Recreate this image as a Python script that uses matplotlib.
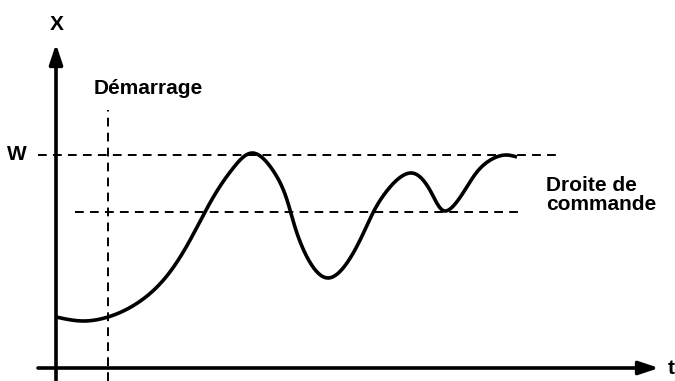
import numpy as np
import matplotlib.pyplot as plt

# schematic response curve: time t vs value X (arbitrary units, origin at axes crossing)
t_pts = [0, 27, 52, 100, 149, 178, 196, 216, 245, 272, 300, 330, 356, 375, 389, 405, 430, 451, 461]
x_pts = [51, 47, 51, 80, 156, 201, 215, 199, 124, 90, 120, 176, 195, 176, 157, 172, 205, 213, 211]

w_level = 213
cmd_level = 156
start_t = 52


def smooth(xs, ys, n=600):
    # natural cubic spline through the points (chord-length parameter), for drawing only
    p = np.column_stack([xs, ys]).astype(float)
    d = np.hypot(*np.diff(p, axis=0).T)
    s = np.concatenate([[0], np.cumsum(d)])
    m = len(s)
    h = np.diff(s)
    A = np.zeros((m, m))
    A[0, 0] = A[-1, -1] = 1
    for i in range(1, m - 1):
        A[i, i - 1] = h[i - 1]
        A[i, i] = 2 * (h[i - 1] + h[i])
        A[i, i + 1] = h[i]
    ss = np.linspace(0, s[-1], n)
    res = []
    for k in range(2):
        y = p[:, k]
        b = np.zeros(m)
        b[1:-1] = 6 * ((y[2:] - y[1:-1]) / h[1:] - (y[1:-1] - y[:-2]) / h[:-1])
        M = np.linalg.solve(A, b)
        idx = np.clip(np.searchsorted(s, ss) - 1, 0, m - 2)
        u = ss - s[idx]
        hi = h[idx]
        v = (M[idx] * (hi - u) ** 3 / (6 * hi) + M[idx + 1] * u ** 3 / (6 * hi)
             + (y[idx] / hi - M[idx] * hi / 6) * (hi - u)
             + (y[idx + 1] / hi - M[idx + 1] * hi / 6) * u)
        res.append(v)
    return res[0], res[1]


fig = plt.figure(figsize=(6.75, 3.81), dpi=100)
ax = fig.add_axes([0, 0, 1, 1])
ax.set_xlim(-56, 619)
ax.set_ylim(-13, 368)
ax.axis("off")

font = dict(family="Liberation Sans", weight="bold", color="black")
dash = dict(color="black", lw=1.4, dashes=(4.5, 3.2))

# axes with arrows
head = "-|>,head_length=0.6,head_width=0.2"
ax.annotate("", xy=(603, 0), xytext=(-18, 0),
            arrowprops=dict(arrowstyle=head, mutation_scale=20, lw=2.6,
                            color="black", shrinkA=0, shrinkB=0))
ax.annotate("", xy=(0, 324), xytext=(0, -13),
            arrowprops=dict(arrowstyle=head, mutation_scale=20, lw=2.6,
                            color="black", shrinkA=0, shrinkB=0))

# reference lines
ax.plot([-18, 504], [w_level, w_level], **dash)
ax.plot([19, 468], [cmd_level, cmd_level], **dash)
ax.plot([start_t, start_t], [-13, 258], **dash)

# response curve
cx, cy = smooth(t_pts, x_pts)
ax.plot(cx, cy, color="black", lw=2.6, solid_capstyle="butt")

ax.text(1, 344, "X", ha="center", va="center", fontsize=15, **font)
ax.text(-39, w_level, "W", ha="center", va="center", fontsize=15, **font)
ax.text(start_t + 40, 280, "Démarrage", ha="center", va="center", fontsize=15, **font)
ax.text(490, 173, "Droite de\ncommande", ha="left", va="center", fontsize=15,
        linespacing=0.95, **font)
ax.text(612, 0, "t", ha="left", va="center", fontsize=15, **font)

fig.savefig("out.png", dpi=100)
